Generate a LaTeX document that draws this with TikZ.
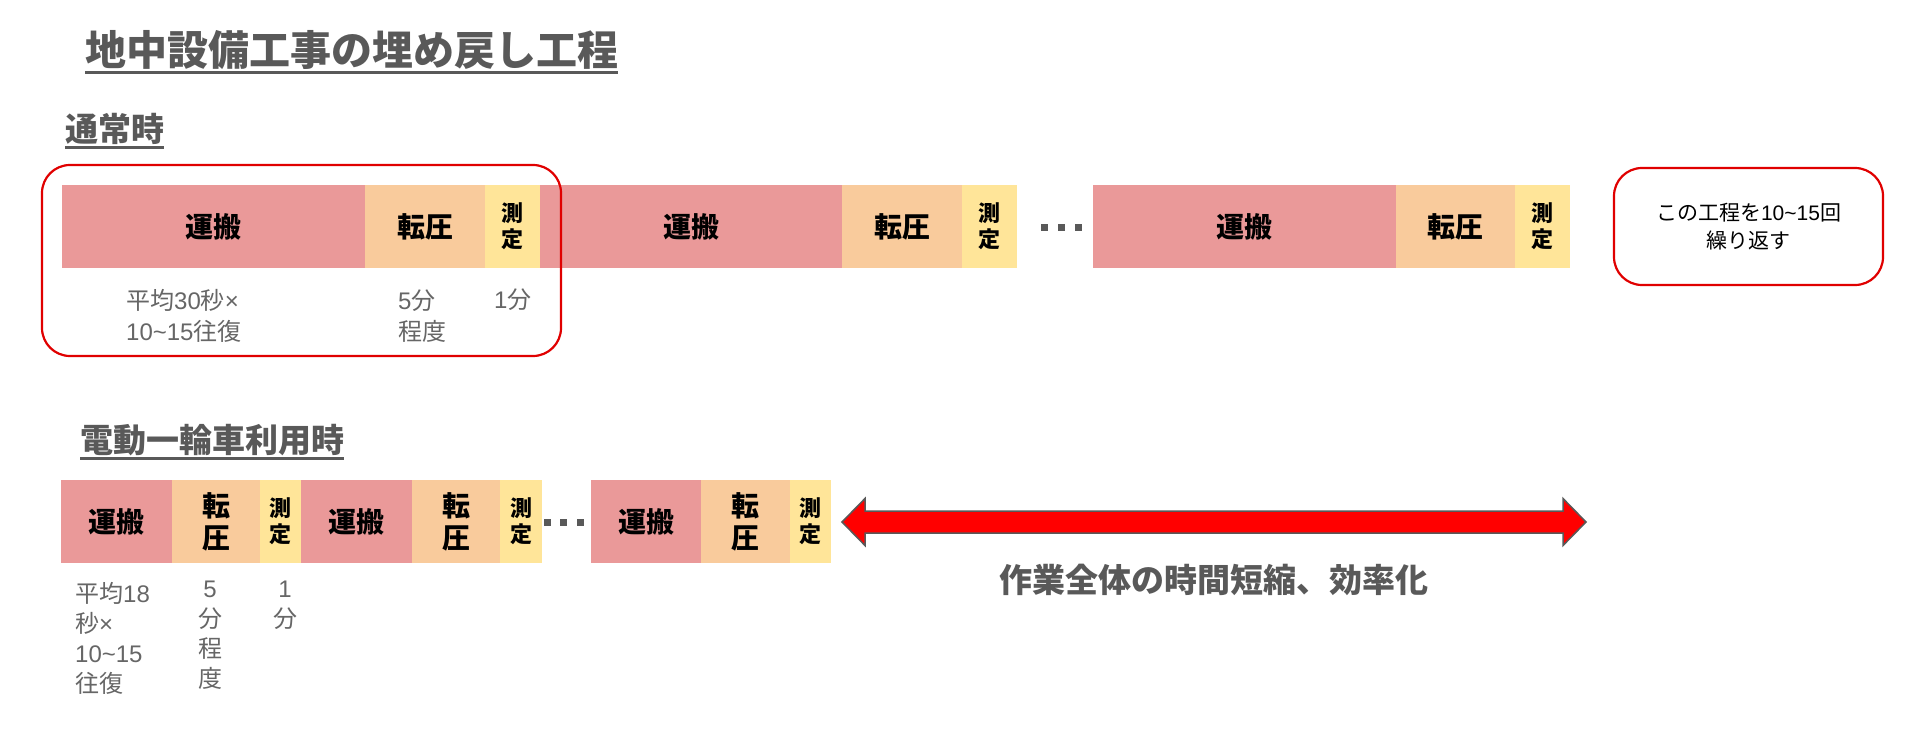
\documentclass[tikz,border=0pt]{standalone}
\usepackage{fontspec}
\setmainfont{Noto Sans CJK JP}
\newfontfamily\lat{Liberation Sans}
\definecolor{haul}{HTML}{EA9999}
\definecolor{press}{HTML}{F9CB9C}
\definecolor{meas}{HTML}{FFE599}
\definecolor{txtgray}{HTML}{595959}
\definecolor{lblgray}{HTML}{666666}
\definecolor{boxred}{HTML}{E00000}
\tikzset{
  seg/.style={anchor=north west, inner sep=0pt, outer sep=0pt, align=center, text=black},
  bigtxt/.style={font=\fontsize{28}{32}\selectfont\bfseries},
  smalltxt/.style={font=\fontsize{22}{26}\selectfont\bfseries},
  haulbox/.style={seg, bigtxt, fill=haul},
  pressbox/.style={seg, bigtxt, fill=press},
  measbox/.style={seg, smalltxt, fill=meas},
  lbl/.style={inner sep=0pt, text=lblgray, font=\fontsize{24}{31}\selectfont},
  heading/.style={inner sep=0pt, anchor=base west, text=txtgray},
  uline/.style={draw=txtgray, line width=3pt},
  redframe/.style={draw=boxred, line width=2.2pt, rounded corners=28pt, inner sep=0pt},
  dotsq/.style={fill=txtgray, inner sep=0pt, minimum size=7pt},
}
\begin{document}
\begin{tikzpicture}[x=1pt, y=-1pt]
\useasboundingbox (0,0) rectangle (1928,738);
% title
\node[heading, font=\fontsize{41}{48}\selectfont\bfseries] (title) at (85,66) {地中設備工事の埋め戻し工程};
\draw[uline] ([yshift=-7pt]title.base west) -- ([yshift=-7pt]title.base east);
% section 1
\node[heading, font=\fontsize{33}{38}\selectfont\bfseries] (sec1) at (65,142) {通常時};
\draw[uline] ([yshift=-6pt]sec1.base west) -- ([yshift=-6pt]sec1.base east);
% row 1 bars
\node[haulbox, minimum width=303pt, minimum height=83pt] (a1) at (62,185) {運搬};
\node[pressbox, minimum width=120pt, minimum height=83pt] (b1) at (365,185) {転圧};
\node[measbox, minimum width=55pt, minimum height=83pt] (c1) at (485,185) {測\\定};
\node[haulbox, minimum width=302pt, minimum height=83pt] (a2) at (540,185) {運搬};
\node[pressbox, minimum width=120pt, minimum height=83pt] (b2) at (842,185) {転圧};
\node[measbox, minimum width=55pt, minimum height=83pt] (c2) at (962,185) {測\\定};
\node[dotsq] (d1) at (1044,228) {};
\node[dotsq] (d2) at (1061,228) {};
\node[dotsq] (d3) at (1078,228) {};
\node[haulbox, minimum width=303pt, minimum height=83pt] (a3) at (1093,185) {運搬};
\node[pressbox, minimum width=119pt, minimum height=83pt] (b3) at (1396,185) {転圧};
\node[measbox, minimum width=55pt, minimum height=83pt] (c3) at (1515,185) {測\\定};
% row 1 labels
\node[lbl, anchor=west, align=left] (la1) at (126,316) {平均{\lat 30}秒{\lat ×}\\{\lat 10\textasciitilde15}往復};
\node[lbl, anchor=west, align=left] (lb1) at (398,316) {{\lat 5}分\\程度};
\node[lbl, anchor=west, align=left] (lc1) at (494,300) {{\lat 1}分};
% red frame round first cycle
\node[redframe, minimum width=519pt, minimum height=191pt] (frame) at (301.5,260.5) {};
% repeat note
\node[redframe, minimum width=269pt, minimum height=117pt, align=center, font=\fontsize{21}{28}\selectfont, text=black] (note) at (1748.5,226.5) {この工程を{\lat 10\textasciitilde15}回\\繰り返す};
% section 2
\node[heading, font=\fontsize{33}{38}\selectfont\bfseries] (sec2) at (80,452) {電動一輪車利用時};
\draw[uline] ([yshift=-6pt]sec2.base west) -- ([yshift=-6pt]sec2.base east);
% row 2 bars
\node[haulbox, minimum width=111pt, minimum height=83pt] (e1) at (61,480) {運搬};
\node[pressbox, minimum width=88pt, minimum height=83pt] (f1) at (172,480) {転\\圧};
\node[measbox, minimum width=41pt, minimum height=83pt] (g1) at (260,480) {測\\定};
\node[haulbox, minimum width=111pt, minimum height=83pt] (e2) at (301,480) {運搬};
\node[pressbox, minimum width=88pt, minimum height=83pt] (f2) at (412,480) {転\\圧};
\node[measbox, minimum width=42pt, minimum height=83pt] (g2) at (500,480) {測\\定};
\node[dotsq] (h1) at (547,522) {};
\node[dotsq] (h2) at (563,522) {};
\node[dotsq] (h3) at (580,522) {};
\node[haulbox, minimum width=110pt, minimum height=83pt] (e3) at (591,480) {運搬};
\node[pressbox, minimum width=89pt, minimum height=83pt] (f3) at (701,480) {転\\圧};
\node[measbox, minimum width=41pt, minimum height=83pt] (g3) at (790,480) {測\\定};
% row 2 labels
\node[lbl, anchor=west, align=left, font=\fontsize{24}{30}\selectfont] (le1) at (75,638) {平均{\lat 18}\\秒{\lat ×}\\{\lat 10\textasciitilde15}\\往復};
\node[lbl, align=center, font=\fontsize{24}{30}\selectfont] (lf1) at (210,635) {{\lat 5}\\分\\程\\度};
\node[lbl, align=center, font=\fontsize{24}{30}\selectfont] (lg1) at (285,605) {{\lat 1}\\分};
% double arrow
\filldraw[fill=red, draw=txtgray, line width=1.5pt, line join=miter]
  (842,522) -- (865,498.5) -- (865,511) -- (1563,511) -- (1563,498.5) -- (1586,522)
  -- (1563,545.5) -- (1563,533) -- (865,533) -- (865,545.5) -- cycle;
\node[inner sep=0pt, text=txtgray, font=\fontsize{33}{38}\selectfont\bfseries] (gain) at (1214,580) {作業全体の時間短縮、効率化};
\end{tikzpicture}
\end{document}
